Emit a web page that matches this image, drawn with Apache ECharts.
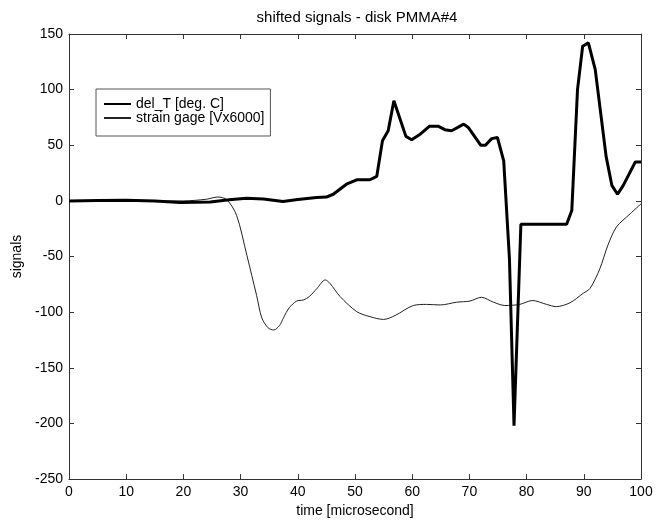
<!DOCTYPE html>
<html>
<head>
<meta charset="utf-8">
<script src="https://cdn.jsdelivr.net/npm/echarts@6/dist/echarts.min.js"></script>
<style>html,body{margin:0;padding:0;background:#fff;}#c{width:669px;height:523px;}</style>
</head>
<body>
<div id="c"></div>
<script>
const titleText = "shifted signals - disk PMMA#4";
const xName = "time [microsecond]";
const yName = "signals";
const seriesNames = ["del_T [deg. C]", "strain gage [Vx6000]"];

const delT_x = [0,5,10,15,19.4,24.7,28,31,34,37.4,40,43.3,45,46.2,48.5,50.3,52.6,53.8,54.8,55.8,56.8,58.9,59.9,61.4,63,64.6,65.7,66.9,69,69.8,72,72.8,73.9,74.9,76,77,77.8,79,87,87.9,88.9,89.8,90.8,92,93.9,94.9,95.9,96.9,99,100];
const delT_y = [0,0.3,0.5,0,-1.5,-1,1,2.4,1.8,-0.6,1.2,3,3.5,6,15,19,19,22,54,63,90,58,55,60,67,67,64,63,69,66,50,50,56,57,36,-52,-202,-21,-21,-8.7,100,139,142,118,40,14,6,14,35,35];

const strain_x = [0,10,20,24,26,27.6,29.3,31.1,32.8,33.7,34.8,35.8,36.8,37.5,38.5,39.8,41,42,43.3,44.8,45.6,47.4,50.3,52.6,55,57,60.2,62.5,64.9,67.8,70.1,72.1,74.2,76.2,78.8,81,83.5,85.2,87.6,89.9,91.1,92.8,94.2,95.7,98.1,100];
const strain_y = [0,0,0,1.5,3.5,1,-13,-49,-85,-105,-114,-116,-112,-105,-96,-90,-89,-86,-79,-71,-74,-86,-99.5,-104,-106.5,-103,-94,-93,-93.5,-91,-90,-86.6,-91,-94,-93,-89.5,-93,-95,-91.5,-83,-78.6,-61,-40,-23.5,-11.6,-2.7];

const xMin = 0, xMax = 100, xStep = 10;
const yMin = -250, yMax = 150, yStep = 50;

const pairs = (xs, ys) => xs.map((x, i) => [x, ys[i]]);
const font = "'Liberation Sans', Arial, Helvetica, sans-serif";
const axisColor = '#333';

const chart = echarts.init(document.getElementById('c'), null, {renderer: 'canvas'});
const baseX = {
  type: 'value', min: xMin, max: xMax, interval: xStep,
  axisLine: {show: true, onZero: false, lineStyle: {color: axisColor, width: 1}},
  axisTick: {show: true, inside: true, length: 5, lineStyle: {color: axisColor}},
  splitLine: {show: false}
};
const baseY = {
  type: 'value', min: yMin, max: yMax, interval: yStep,
  axisLine: {show: true, onZero: false, lineStyle: {color: axisColor, width: 1}},
  axisTick: {show: true, inside: true, length: 5, lineStyle: {color: axisColor}},
  splitLine: {show: false}
};
chart.setOption({
  backgroundColor: '#fff',
  animation: false,
  title: {
    text: titleText, left: 352, top: 5, textAlign: 'center',
    textStyle: {fontFamily: font, fontSize: 15, fontWeight: 'normal', color: '#000'}
  },
  grid: {left: 69, right: 28, top: 34, bottom: 41, containLabel: false},
  legend: {
    left: 96, top: 89, orient: 'vertical',
    data: seriesNames,
    itemWidth: 27, itemHeight: 10, itemGap: 0, itemTextGap: 6,
    padding: [8, 6, 11, 7],
    borderColor: '#555', borderWidth: 1, backgroundColor: '#fff',
    itemStyle: {opacity: 0, borderWidth: 0},
    textStyle: {fontFamily: font, fontSize: 14, color: '#000', lineHeight: 10},
    selectedMode: false
  },
  xAxis: [
    Object.assign({}, baseX, {
      position: 'bottom', name: xName, nameLocation: 'middle', nameGap: 23,
      nameTextStyle: {fontFamily: font, fontSize: 14, color: '#000'},
      axisLabel: {fontFamily: font, fontSize: 14, color: '#000', margin: 6}
    }),
    Object.assign({}, baseX, {position: 'top', axisLabel: {show: false}})
  ],
  yAxis: [
    Object.assign({}, baseY, {
      position: 'left', name: yName, nameLocation: 'middle', nameGap: 39,
      nameTextStyle: {fontFamily: font, fontSize: 14, color: '#000'},
      axisLabel: {fontFamily: font, fontSize: 14, color: '#000', margin: 6}
    }),
    Object.assign({}, baseY, {position: 'right', axisLabel: {show: false}})
  ],
  series: [
    {
      name: seriesNames[0], type: 'line', xAxisIndex: 0, yAxisIndex: 0,
      data: pairs(delT_x, delT_y), symbol: 'none', smooth: false,
      lineStyle: {color: '#000', width: 3}, itemStyle: {color: '#000'}, z: 3
    },
    {
      name: seriesNames[1], type: 'line', xAxisIndex: 0, yAxisIndex: 0,
      data: pairs(strain_x, strain_y), symbol: 'none', smooth: 0.3,
      lineStyle: {color: '#222', width: 1}, itemStyle: {color: '#222'}, z: 2
    }
  ]
});
</script>
</body>
</html>
